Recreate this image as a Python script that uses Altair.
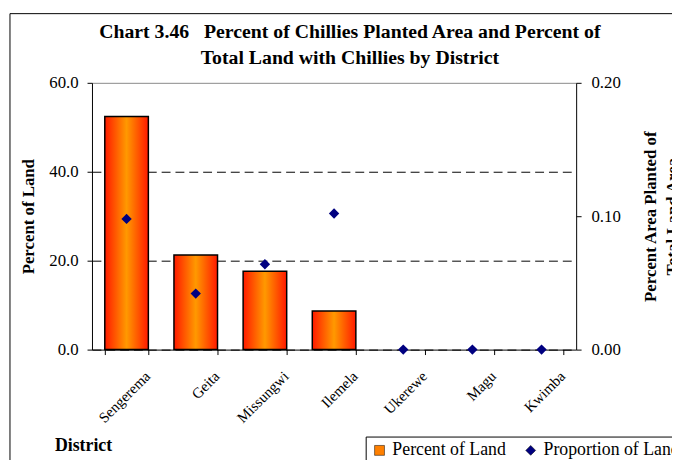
import altair as alt
import pandas as pd

districts = ["Sengerema", "Geita", "Missungwi", "Ilemela", "Ukerewe", "Magu", "Kwimba"]
percent_of_land = [52.4, 21.3, 17.6, 8.7, 0.0, 0.0, 0.0]
proportion_of_land = [0.098, 0.042, 0.064, 0.102, 0.0, 0.0, 0.0]
series_names = ["Percent of Land", "Proportion of Land Area"]
left_ticks = [0, 20, 40, 60]
right_ticks = [0.0, 0.1, 0.2]

df = pd.DataFrame({
    "District": districts,
    "pct": percent_of_land,
    "prop": proportion_of_land,
    "series": series_names[1],
})

FONT = "Liberation Serif"
W, H = 490, 270

xenc = alt.X(
    "District:N", sort=districts,
    scale=alt.Scale(paddingInner=0.37, paddingOuter=0.185),
    axis=alt.Axis(
        title="District", labelAngle=315, tickBand="extent", labelFontSize=15,
        labelColor="black", domainColor="black", tickColor="black", tickSize=5,
        labelPadding=14, labelOffset=16,
        titleFontSize=18, titleFontWeight="bold", titleAlign="left",
        titleX=-38, titleY=102, titleBaseline="alphabetic", grid=False,
    ),
)

grad = alt.Gradient(
    gradient="linear", x1=0, x2=1, y1=0, y2=0,
    stops=[alt.GradientStop(offset=0, color="#ff1a00"),
           alt.GradientStop(offset=0.5, color="#ff9900"),
           alt.GradientStop(offset=1, color="#ff1a00")],
)

frame = alt.Chart(alt.Data(values=[{}])).mark_rect(
    fill="white", fillOpacity=0, stroke="black", strokeWidth=1
).encode(x=alt.value(-83), y=alt.value(-70), x2=alt.value(700), y2=alt.value(600))

bars = alt.Chart(df).transform_filter("datum.pct > 0").mark_bar(
    fill=grad, stroke="black", strokeWidth=1.5
).encode(
    x=xenc,
    y=alt.Y("pct:Q", scale=alt.Scale(domain=[0, 60]),
            axis=alt.Axis(
                title="Percent of Land", values=left_ticks, format=".1f",
                labelFontSize=17, labelColor="black", domainColor="black",
                tickColor="black", tickSize=5, labelPadding=9,
                titleFontSize=17, titleFontWeight="bold", titlePadding=11,
                grid=True, gridWidth=1,
                gridDash={"condition": {"test": "datum.value === 60", "value": []}, "value": [9, 5]},
                gridColor={"condition": {"test": "datum.value === 60", "value": "#888888"}, "value": "black"},
            )),
)

points = alt.Chart(df).mark_point(filled=True, opacity=1).encode(
    x=alt.X("District:N", sort=districts),
    y=alt.Y("prop:Q", scale=alt.Scale(domain=[0, 0.2]),
            axis=alt.Axis(
                orient="right", values=right_ticks, format=".2f",
                title=["Percent Area Planted of", "Total Land Area"],
                labelFontSize=17, labelColor="black", domainColor="black",
                tickColor="black", tickSize=5, labelPadding=10,
                titleFontSize=17, titleFontWeight="bold", titleAngle=270,
                titlePadding=18, titleLineHeight=22, grid=False,
            )),
    color=alt.Color("series:N", scale=alt.Scale(domain=series_names, range=["#ff8000", "#000080"]),
                    legend=alt.Legend(title=None, orient="none", legendX=277, legendY=358,
                                      direction="horizontal", strokeColor="black", fillColor="white",
                                      padding=5, labelFontSize=18, labelColor="black",
                                      symbolStrokeColor="black", symbolStrokeWidth=0.5,
                                      symbolSize=100, columnPadding=16)),
    shape=alt.Shape("series:N", scale=alt.Scale(domain=series_names, range=["square", "diamond"]),
                    legend=None),
    size=alt.value(110),
)

chart = alt.layer(frame, bars, points).resolve_scale(y="independent").properties(
    width=W, height=H,
    autosize=alt.AutoSizeParams(type="none"),
    padding={"left": 85, "top": 73, "right": 97, "bottom": 109},
    title=alt.TitleParams(
        text=["Chart 3.46\u00a0\u00a0\u00a0Percent of Chillies Planted Area and Percent of",
              "Total Land with Chillies by District"],
        fontSize=20, font=FONT, fontWeight="bold", anchor="middle", frame="group", dx=16,
        offset=-55, lineHeight=26, color="black",
    ),
).configure(font=FONT).configure_view(stroke=None)

chart.save("out.html", embed_options={"renderer": "svg", "actions": False})
